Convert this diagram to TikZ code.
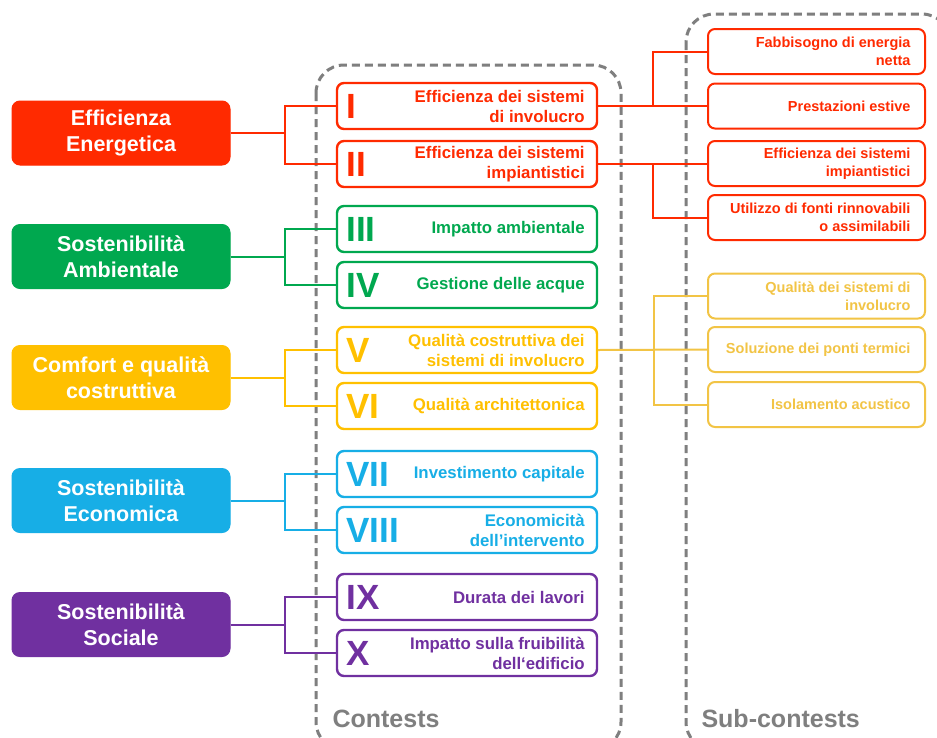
\documentclass[tikz,border=0pt]{standalone}
\usepackage{fontspec}
\setmainfont{Liberation Sans}
\begin{document}
\begin{tikzpicture}[x=1pt,y=-1pt,
  every node/.style={font=\bfseries},
  mainbox/.style={draw=#1,fill=#1,line width=1pt,rounded corners=8pt,minimum width=218pt,minimum height=64pt,text=white,align=center,font=\bfseries\fontsize{21.5}{26}\selectfont},
  conbox/.style={draw=#1,fill=white,line width=2.4pt,rounded corners=7pt,minimum width=260pt,minimum height=46pt},
  numtxt/.style={text=#1,anchor=west,font=\bfseries\fontsize{35}{35}\selectfont},
  contxt/.style={text=#1,anchor=east,align=right,font=\bfseries\fontsize{16.8}{20}\selectfont},
  subbox/.style={draw=#1,fill=white,line width=2pt,rounded corners=7pt,minimum width=217pt,minimum height=45pt},
  subtxt/.style={text=#1,anchor=east,align=right,font=\bfseries\fontsize{14.5}{18.5}\selectfont},
  link/.style={draw=#1,line width=2pt},
  container/.style={draw=cgray,line width=3pt,dash pattern=on 8pt off 5pt,rounded corners=28pt},
  contlabel/.style={text=cgray,anchor=base west,font=\bfseries\fontsize{25}{25}\selectfont}
]
\definecolor{cred}{HTML}{FF2A00}
\definecolor{cgreen}{HTML}{00A84F}
\definecolor{cyellow}{HTML}{FFC000}
\definecolor{csubyel}{HTML}{F2C445}
\definecolor{cblue}{HTML}{17AEE6}
\definecolor{cpurple}{HTML}{7030A0}
\definecolor{cgray}{HTML}{7F7F7F}
\useasboundingbox (0,0) rectangle (937,737);
\clip (0,0) rectangle (937,737);
\fill[white] (0,0) rectangle (937,737);

% containers
\draw[container] (316,65) rectangle (621,750);
\draw[container] (686,14) rectangle (950,750);
\node[contlabel] (lc) at (329,727) {Contests};
\node[contlabel] (ls) at (698,727) {Sub-contests};

% left main boxes
\node[mainbox=cred] (L1) at (121,133) {Efficienza\\Energetica};
\node[mainbox=cgreen] (L2) at (121,256.5) {Sostenibilità\\Ambientale};
\node[mainbox=cyellow] (L3) at (121,377.5) {Comfort e qualità\\costruttiva};
\node[mainbox=cblue] (L4) at (121,500.5) {Sostenibilità\\Economica};
\node[mainbox=cpurple] (L5) at (121,624.5) {Sostenibilità\\Sociale};

% contest boxes
\node[conbox=cred] (c1) at (467,106) {};
\node[conbox=cred] (c2) at (467,164) {};
\node[conbox=cgreen] (c3) at (467,229) {};
\node[conbox=cgreen] (c4) at (467,285) {};
\node[conbox=cyellow] (c5) at (467,350) {};
\node[conbox=cyellow] (c6) at (467,406) {};
\node[conbox=cblue] (c7) at (467,474) {};
\node[conbox=cblue] (c8) at (467,530) {};
\node[conbox=cpurple] (c9) at (467,597) {};
\node[conbox=cpurple] (c10) at (467,653) {};

\node[numtxt=cred] (n1) at ([xshift=7pt]c1.west) {I};
\node[numtxt=cred] (n2) at ([xshift=7pt]c2.west) {II};
\node[numtxt=cgreen] (n3) at ([xshift=7pt]c3.west) {III};
\node[numtxt=cgreen] (n4) at ([xshift=7pt]c4.west) {IV};
\node[numtxt=cyellow] (n5) at ([xshift=7pt]c5.west) {V};
\node[numtxt=cyellow] (n6) at ([xshift=7pt]c6.west) {VI};
\node[numtxt=cblue] (n7) at ([xshift=7pt]c7.west) {VII};
\node[numtxt=cblue] (n8) at ([xshift=7pt]c8.west) {VIII};
\node[numtxt=cpurple] (n9) at ([xshift=7pt]c9.west) {IX};
\node[numtxt=cpurple] (n10) at ([xshift=7pt]c10.west) {X};

\node[contxt=cred] (t1) at ([xshift=-10pt]c1.east) {Efficienza dei sistemi\\di involucro};
\node[contxt=cred] (t2) at ([xshift=-10pt]c2.east) {Efficienza dei sistemi\\impiantistici};
\node[contxt=cgreen] (t3) at ([xshift=-10pt]c3.east) {Impatto ambientale};
\node[contxt=cgreen] (t4) at ([xshift=-10pt]c4.east) {Gestione delle acque};
\node[contxt=cyellow] (t5) at ([xshift=-10pt]c5.east) {Qualità costruttiva dei\\sistemi di involucro};
\node[contxt=cyellow] (t6) at ([xshift=-10pt]c6.east) {Qualità architettonica};
\node[contxt=cblue] (t7) at ([xshift=-10pt]c7.east) {Investimento capitale};
\node[contxt=cblue] (t8) at ([xshift=-10pt]c8.east) {Economicità\\dell’intervento};
\node[contxt=cpurple] (t9) at ([xshift=-10pt]c9.east) {Durata dei lavori};
\node[contxt=cpurple] (t10) at ([xshift=-10pt]c10.east) {Impatto sulla fruibilità\\dell‘edificio};

% sub-contest boxes
\node[subbox=cred] (s1) at (816.5,51.5) {};
\node[subbox=cred] (s2) at (816.5,106) {};
\node[subbox=cred] (s3) at (816.5,163.5) {};
\node[subbox=cred] (s4) at (816.5,217.5) {};
\node[subbox=csubyel] (s5) at (816.5,296) {};
\node[subbox=csubyel] (s6) at (816.5,349.5) {};
\node[subbox=csubyel] (s7) at (816.5,404.5) {};

\node[subtxt=cred] (u1) at ([xshift=-12pt]s1.east) {Fabbisogno di energia\\netta};
\node[subtxt=cred] (u2) at ([xshift=-12pt]s2.east) {Prestazioni estive};
\node[subtxt=cred] (u3) at ([xshift=-12pt]s3.east) {Efficienza dei sistemi\\impiantistici};
\node[subtxt=cred] (u4) at ([xshift=-12pt]s4.east) {Utilizzo di fonti rinnovabili\\o assimilabili};
\node[subtxt=csubyel] (u5) at ([xshift=-12pt]s5.east) {Qualità dei sistemi di\\involucro};
\node[subtxt=csubyel] (u6) at ([xshift=-12pt]s6.east) {Soluzione dei ponti termici};
\node[subtxt=csubyel] (u7) at ([xshift=-12pt]s7.east) {Isolamento acustico};

% left connectors
\draw[link=cred] (L1.east) -- ++(54,0) |- (c1.west);
\draw[link=cred] (L1.east) -- ++(54,0) |- (c2.west);
\draw[link=cgreen] (L2.east) -- ++(54,0) |- (c3.west);
\draw[link=cgreen] (L2.east) -- ++(54,0) |- (c4.west);
\draw[link=cyellow] (L3.east) -- ++(54,0) |- (c5.west);
\draw[link=cyellow] (L3.east) -- ++(54,0) |- (c6.west);
\draw[link=cblue] (L4.east) -- ++(54,0) |- (c7.west);
\draw[link=cblue] (L4.east) -- ++(54,0) |- (c8.west);
\draw[link=cpurple] (L5.east) -- ++(54,0) |- (c9.west);
\draw[link=cpurple] (L5.east) -- ++(54,0) |- (c10.west);

% right connectors
\draw[link=cred] (c1.east) -- ++(55,0) |- (s1.west);
\draw[link=cred] (c1.east) -- (s2.west);
\draw[link=cred] (c2.east) -- ++(55,0) |- (s3.west);
\draw[link=cred] (c2.east) -- ++(55,0) |- (s4.west);
\draw[link=csubyel] (c5.east) -- ++(56,0) |- (s5.west);
\draw[link=csubyel] (c5.east) -- (s6.west);
\draw[link=csubyel] (c5.east) -- ++(56,0) |- (s7.west);
\end{tikzpicture}
\end{document}
